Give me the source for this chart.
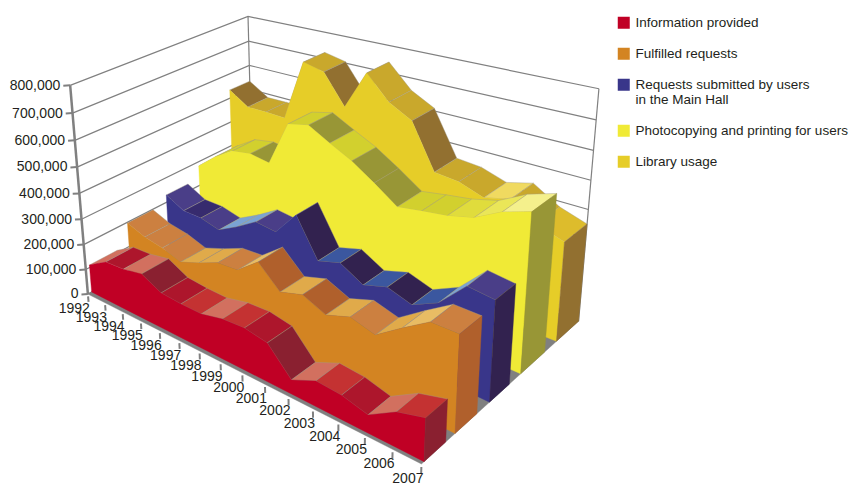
import numpy as np, pandas as pd, altair as alt

YEARS = list(range(1992, 2008))
SERIES = ["Information provided", "Fulfilled requests", "Requests submitted by users|in the Main Hall",
          "Photocopying and printing for users", "Library usage"]
INFORMATION = [110,155,160,175,137,131,130,149,154,140,50,89,83,61,116,142]
FULFILLED = [197,171,160,137,167,202,209,273,199,226,192,223,201,264,323,324]
REQUESTS = [230,194,195,178,222,273,266,361,224,251,207,236,211,256,349,341]
PHOTOCOPY = [282,346,396,411,401,575,595,554,515,464,408,424,438,462,512,543]
USAGE = [534,485,486,485,723,705,594,740,655,610,450,442,413,437,381,350]
VALUES = [INFORMATION, FULFILLED, REQUESTS, PHOTOCOPY, USAGE]  # thousands
DEPTH_1992 = [(0.02, 0.17), (0.235, 0.38), (0.46, 0.59), (0.66, 0.80), (0.87, 1.0)]
DEPTH_2007 = [(0.014, 0.133), (0.186, 0.314), (0.391, 0.516), (0.59, 0.753), (0.837, 1.0)]
FRONT = ["#c00025","#d38422","#39368a","#f0ea36","#e6cd28"]
SIDE = ["#8a2030","#b0602c","#32224f","#989636","#927030"]
PAL = [["#8a2030","#ad162c","#c43232","#d2705f"],
       ["#b0602c","#cc8040","#e0aa4a","#e8bc64"],
       ["#32224f","#372b6e","#4a3e88","#3b579f","#7ba3d3"],
       ["#989636","#d2d02e","#e0dc3c","#eae658","#f4f08c"],
       ["#927030","#c9a82c","#ddbc2c","#f0da60"]]
SHADE = [[3,1,3,0,1,2,3,2,1,0,3,2,1,3,2],
         [1,1,1,2,2,1,3,0,2,0,2,1,2,3,1],
         [2,1,2,4,4,2,4,0,3,0,3,0,3,4,2],
         [1,1,1,0,1,1,0,1,0,0,1,1,2,3,4],
         [0,1,1,1,1,0,1,1,1,0,1,1,3,1,2]]
# camera calibration of the 3-D box (year, depth, value) onto the page
cal3 = [(0,0,0),(0,0,.5),(0,0,1),(1,0,0),(8/15,0,0),(1,1,0),(1,1,.5),(1,1,1),(0,1,1),(0,1,.75),(0,1,.875)]
cal2 = [(86,288),(78,192),(70,88),(420,463),(247,378),(578,323),(588,208),(599,87),(249,14),(249,69),(249,42)]
A=[]
for (a,b,c),(u,v) in zip(cal3,cal2):
    A.append([a,b,c,1,0,0,0,0,-u*a,-u*b,-u*c,-u])
    A.append([0,0,0,0,a,b,c,1,-v*a,-v*b,-v*c,-v])
P=np.linalg.svd(np.array(A,float))[2][-1].reshape(3,4)
P=P/P[2,3]
X3=np.array([list(q)+[1.0] for q in cal3]); U=np.array(cal2,float)
def resid(p):
    M=np.append(p,1.0).reshape(3,4)
    H=X3@M.T
    return ((H[:,:2]/H[:,2:])-U).ravel()
p=P.ravel()[:11].copy()
for _ in range(30):
    r=resid(p); J=np.zeros((r.size,11))
    for j in range(11):
        d=np.zeros(11); d[j]=abs(p[j])*1e-6+1e-9
        J[:,j]=(resid(p+d)-r)/d[j]
    p=p+np.linalg.lstsq(J,-r,rcond=None)[0]
P=np.append(p,1.0).reshape(3,4)
def proj(t,s,v):
    h=P@np.array([t,s,v,1.0]); return h[0]/h[2],h[1]/h[2]

pts=[];n=0
def poly(c,*p,stroke=None):
    global n
    p=list(p)+[p[0]]
    for j,q in enumerate(p):
        x,y=proj(*q); pts.append(dict(px=x,py=y,g=n,o=j,c=c,sc=stroke or c))
    n+=1
poly("#808080",(0,0,0),(1,0,0),(1,1,0),(0,1,0))
for k in range(4,-1,-1):
    v=[x/800 for x in VALUES[k]]
    def sf(i): return DEPTH_1992[k][0]+(DEPTH_2007[k][0]-DEPTH_1992[k][0])*i/15
    def sb(i): return DEPTH_1992[k][1]+(DEPTH_2007[k][1]-DEPTH_1992[k][1])*i/15
    for i in range(15):
        poly(PAL[k][SHADE[k][i]],(i/15,sf(i),v[i]),((i+1)/15,sf(i+1),v[i+1]),((i+1)/15,sb(i+1),v[i+1]),(i/15,sb(i),v[i]),stroke="#a09a88")
    poly(FRONT[k],*([(i/15,sf(i),v[i]) for i in range(16)]+[(i/15,sf(i),0) for i in range(15,-1,-1)]))
    poly(SIDE[k],(1,sf(15),v[15]),(1,sb(15),v[15]),(1,sb(15),0),(1,sf(15),0))
df=pd.DataFrame(pts)
xs=alt.Scale(domain=[8,849]); ys=alt.Scale(domain=[488,8])
X=lambda f='px':alt.X(f+':Q',scale=xs,axis=None)
Yc=lambda f='py':alt.Y(f+':Q',scale=ys,axis=None)
segs=[];m=0
def seg(w,*p):
    global m
    for j,q in enumerate(p):
        x,y=proj(*q); segs.append(dict(px=x,py=y,g=m,o=j,w=w))
    m+=1
for i in range(9):
    f=i/8
    seg(1.2,(0,0,f),(0,1,f),(1,1,f))
seg(1.2,(0,1,0),(0,1,1))
seg(1.2,(1,1,0),(1,1,1))
frame=alt.Chart(pd.DataFrame(segs)).mark_line(color="#808080").encode(x=X(),y=Yc(),detail='g:N',order='o:Q',strokeWidth=alt.StrokeWidth('w:Q',scale=None))
segs=[];m=0
seg(2.5,(0,0,0),(0,0,1))
for i in range(9):
    seg(2,(-0.012,-0.018,i/8),(0,0,i/8))
for i in range(16):
    seg(2,(i/15,0,-0.012),(i/15,0,-0.04))
ticks=alt.Chart(pd.DataFrame(segs)).mark_line(color="#808080").encode(x=X(),y=Yc(),detail='g:N',order='o:Q',strokeWidth=alt.StrokeWidth('w:Q',scale=None))
vl=[]
for i in range(9):
    x,y=proj(-0.012,-0.018,i/8); vl.append(dict(px=x,py=y,s=f"{i*100000:,}"))
vlab=alt.Chart(pd.DataFrame(vl)).mark_text(align='right',baseline='middle',dx=-3,font='Liberation Sans',fontSize=14,color='#231f20').encode(x=X(),y=Yc(),text='s:N')
yl=[]
for i,yr in enumerate(YEARS):
    x,y=proj(i/15,0,0); yl.append(dict(px=x,py=y,s=str(yr)))
ylab=alt.Chart(pd.DataFrame(yl)).mark_text(align='right',baseline='middle',dx=2,dy=15,font='Liberation Sans',fontSize=14,color='#231f20').encode(x=X(),y=Yc(),text='s:N')
c=alt.Chart(df).mark_line(strokeWidth=0.4).encode(x=X(),y=Yc(),detail='g:N',order='o:Q',fill=alt.Fill('c:N',scale=None),stroke=alt.Stroke('sc:N',scale=None))
leg=alt.Chart(pd.DataFrame(dict(s=SERIES))).mark_square(opacity=0).encode(x=alt.value(0),y=alt.value(0),
    color=alt.Color('s:N',scale=alt.Scale(domain=SERIES,range=FRONT),sort=SERIES,
      legend=alt.Legend(title=None,orient='none',legendX=609,legendY=8,symbolType='square',symbolSize=144,symbolOpacity=1,symbolStrokeWidth=0,
        labelFont='Liberation Sans',labelFontSize=13.5,labelColor='#231f20',labelOffset=5,rowPadding=16,labelLimit=300,
        labelExpr="split(datum.label,'|')")))
chart=alt.layer(frame,c,ticks,vlab,ylab,leg).properties(width=841,height=480,padding=0,autosize='none').configure_view(stroke=None)
chart.save("out.html",embed_options={"renderer":"svg","actions":False})
